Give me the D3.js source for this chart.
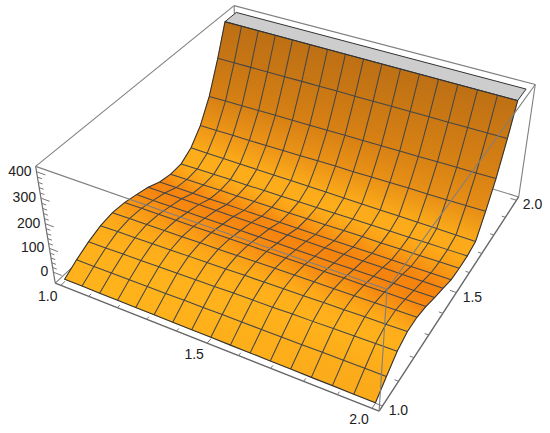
<!DOCTYPE html>
<html>
<head>
<meta charset="utf-8">
<style>
  body { margin: 0; background: #fff; }
  svg { display: block; }
  text { font-family: "Liberation Sans", Arial, sans-serif; font-size: 14px; fill: #222; }
</style>
</head>
<body>
<script src="https://d3js.org/d3.v7.min.js"></script>
<script>
const xMesh = d3.range(17).map(i => 1 + i / 16);
const yMesh = d3.range(17).map(i => 1 + i / 16);

// surface height per row of y, one value per mesh column of x
const zByRow = [
  [-38, -38, -39, -39, -40, -40, -41, -41, -41, -42, -42, -43, -43, -44, -44, -45, -45],
  [-7, -7, -6, -6, -5, -5, -4, -4, -3, -3, -3, -2, -2, -1, -1, 0, 0],
  [19, 20, 22, 23, 25, 26, 28, 29, 31, 32, 33, 35, 36, 38, 39, 41, 42],
  [38, 40, 41, 43, 44, 46, 47, 49, 51, 52, 54, 55, 57, 58, 60, 61, 63],
  [46, 47, 48, 49, 50, 51, 52, 53, 55, 56, 57, 58, 59, 60, 61, 62, 63],
  [42, 43, 43, 44, 44, 45, 45, 46, 47, 47, 48, 48, 49, 49, 50, 50, 51],
  [30, 30, 30, 30, 31, 31, 31, 31, 31, 31, 31, 31, 32, 32, 32, 32, 32],
  [16, 16, 16, 16, 16, 16, 16, 16, 16, 16, 16, 16, 16, 16, 16, 16, 16],
  [-6, -6, -6, -6, -5, -5, -5, -5, -4, -4, -4, -4, -3, -3, -3, -2, -2],
  [-16, -15, -15, -14, -14, -13, -13, -12, -11, -11, -10, -9, -9, -8, -8, -7, -6],
  [-14, -13, -13, -12, -12, -11, -11, -10, -10, -9, -8, -8, -7, -7, -6, -6, -5],
  [15, 14, 14, 13, 13, 12, 12, 12, 11, 10, 10, 9, 9, 8, 8, 7, 6],
  [72, 73, 74, 74, 75, 76, 77, 78, 79, 79, 80, 81, 82, 82, 83, 84, 85],
  [160, 161, 162, 163, 164, 165, 166, 167, 168, 168, 169, 170, 171, 172, 173, 174, 175],
  [286, 287, 287, 288, 288, 289, 289, 290, 290, 290, 291, 291, 292, 292, 293, 293, 294],
  [429, 429, 429, 429, 429, 429, 429, 429, 429, 429, 429, 429, 429, 429, 429, 429, 429],
  [607, 607, 607, 607, 607, 607, 607, 607, 607, 607, 607, 607, 607, 607, 607, 607, 607]
];
const zClip = 408;

const xTicks = d3.range(0, 11).map(i => 1 + i / 10);
const yTicks = d3.range(0, 11).map(i => 1 + i / 10);
const zTicks = d3.range(0, 21).map(i => i * 20);
const xyLabels = [1, 1.5, 2];
const zLabels = [0, 100, 200, 300, 400];

const slopeStops = [-0.6, -0.2, 0.3, 1.2, 2.2, 3.7, 5.5];
const shadeStops = ['#f5840f', '#f99a15', '#feac1a', '#ffb31b', '#f59c18', '#d98214', '#bb6e14'];

const width = 550, height = 433;
const xDomain = [0.98, 2.02], yDomain = [0.98, 2.02], zDomain = [-47, 420];

const xs = d3.scaleLinear().domain(xDomain).range([0, 1]);
const ys = d3.scaleLinear().domain(yDomain).range([0, 1]);
const zs = d3.scaleLinear().domain(zDomain).range([0, 1]);
const shade = d3.scaleLinear().domain(slopeStops).range(shadeStops).clamp(true);

// camera, unit box to screen
const camera = [
  279.4695, 232.9899, -22.3265, 55.2557,
  79.7552, -147.4064, -129.3863, 283.1715,
  -0.1171, 0.21165, -0.07564
];
function project([x, y, z]) {
  const u = xs(x), v = ys(y), t = zs(z);
  const w = camera[8] * u + camera[9] * v + camera[10] * t + 1;
  return [
    (camera[0] * u + camera[1] * v + camera[2] * t + camera[3]) / w,
    (camera[4] * u + camera[5] * v + camera[6] * t + camera[7]) / w
  ];
}

const svg = d3.select('body').append('svg')
  .attr('width', width)
  .attr('height', height);
const defs = svg.append('defs');
const line = d3.line();
const path3d = pts => line(pts.map(project));

const [x0, x1] = xDomain, [y0, y1] = yDomain, [z0, z1] = zDomain;

function edge(a, b, color = '#7f7f7f', w = 1.1) {
  svg.append('path')
    .attr('d', path3d([a, b]))
    .attr('fill', 'none')
    .attr('stroke', color)
    .attr('stroke-width', w);
}

// box edges behind the surface
edge([x0, y1, z0], [x1, y1, z0]);
edge([x0, y0, z0], [x0, y1, z0]);
edge([x0, y1, z0], [x0, y1, z1]);
edge([x0, y0, z1], [x0, y1, z1]);
edge([x0, y1, z1], [x1, y1, z1]);
edge([x1, y1, z0], [x1, y1, z1]);

// axes and ticks
edge([x0, y0, z1], [x0, y0, z0], '#6e6e6e', 1.2);
edge([x0, y0, z0], [x1, y0, z0], '#666', 1.4);
edge([x1, y0, z0], [x1, y1, z0], '#666', 1.4);
xTicks.forEach((v, i) => edge([v, y0, z0], [v, y0 + (i % 5 === 0 ? 0.02 : 0.012), z0], '#777', 1));
yTicks.forEach((v, i) => edge([x1, v, z0], [x1 - (i % 5 === 0 ? 0.02 : 0.012), v, z0], '#777', 1));
zTicks.forEach((v, i) => edge([x0, y0, v], [x0 + (i % 5 === 0 ? 0.03 : 0.015), y0, v], '#777', 1));

function vertexSlope(r, c) {
  const lo = Math.max(r - 1, 0), hi = Math.min(r + 1, 16);
  return (zs(zByRow[hi][c]) - zs(zByRow[lo][c])) / (ys(yMesh[hi]) - ys(yMesh[lo]));
}

// cut a cell where it rises through the top of the plot range
function clipCell(cell) {
  const out = [];
  cell.forEach((p, i) => {
    const q = cell[(i + 1) % cell.length];
    const pIn = p[2] <= zClip, qIn = q[2] <= zClip;
    if (pIn) out.push(p);
    if (pIn !== qIn) {
      const t = (zClip - p[2]) / (q[2] - p[2]);
      out.push([p[0] + t * (q[0] - p[0]), p[1] + t * (q[1] - p[1]), zClip]);
    }
  });
  return out;
}

const cells = svg.append('g');
d3.range(15, -1, -1).forEach(r => {
  d3.range(16).forEach(c => {
    const poly = clipCell([
      [xMesh[c], yMesh[r], zByRow[r][c]],
      [xMesh[c + 1], yMesh[r], zByRow[r][c + 1]],
      [xMesh[c + 1], yMesh[r + 1], zByRow[r + 1][c + 1]],
      [xMesh[c], yMesh[r + 1], zByRow[r + 1][c]]
    ]);
    if (poly.length < 3) return;
    const xMid = (xMesh[c] + xMesh[c + 1]) / 2;
    const a = project([xMid, yMesh[r], (zByRow[r][c] + zByRow[r][c + 1]) / 2]);
    const b = project([xMid, yMesh[r + 1], (zByRow[r + 1][c] + zByRow[r + 1][c + 1]) / 2]);
    const id = `cell-${r}-${c}`;
    const grad = defs.append('linearGradient')
      .attr('id', id)
      .attr('gradientUnits', 'userSpaceOnUse')
      .attr('x1', a[0]).attr('y1', a[1])
      .attr('x2', b[0]).attr('y2', b[1]);
    grad.append('stop').attr('offset', 0)
      .attr('stop-color', shade((vertexSlope(r, c) + vertexSlope(r, c + 1)) / 2));
    grad.append('stop').attr('offset', 1)
      .attr('stop-color', shade((vertexSlope(r + 1, c) + vertexSlope(r + 1, c + 1)) / 2));
    cells.append('path')
      .attr('d', path3d(poly) + 'Z')
      .attr('fill', `url(#${id})`)
      .attr('stroke', `url(#${id})`)
      .attr('stroke-width', 0.6);
  });
});

// flat grey cap where the surface is clipped
const clipLine = xMesh.map((x, c) => {
  const t = (zClip - zByRow[14][c]) / (zByRow[15][c] - zByRow[14][c]);
  return [x, yMesh[14] + t * (yMesh[15] - yMesh[14]), zClip];
});
svg.append('path')
  .attr('d', path3d([...clipLine, [2, 2, zClip], [1, 2, zClip]]) + 'Z')
  .attr('fill', '#cdcdcd')
  .attr('stroke', '#333')
  .attr('stroke-width', 1)
  .attr('stroke-linejoin', 'round');

// mesh
const meshColor = '#454545';
d3.range(1, 15).forEach(r => {
  svg.append('path')
    .attr('d', path3d(xMesh.map((x, c) => [x, yMesh[r], zByRow[r][c]])))
    .attr('fill', 'none')
    .attr('stroke', meshColor)
    .attr('stroke-width', 1.05);
});
d3.range(1, 16).forEach(c => {
  const pts = d3.range(15).map(r => [xMesh[c], yMesh[r], zByRow[r][c]]);
  pts.push(clipLine[c]);
  svg.append('path')
    .attr('d', path3d(pts))
    .attr('fill', 'none')
    .attr('stroke', meshColor)
    .attr('stroke-width', 1.05);
});

// surface boundary
const boundary = [
  ...xMesh.map((x, c) => [x, yMesh[0], zByRow[0][c]]),
  ...d3.range(1, 15).map(r => [xMesh[16], yMesh[r], zByRow[r][16]]),
  clipLine[16],
  clipLine[0],
  ...d3.range(14, 0, -1).map(r => [xMesh[0], yMesh[r], zByRow[r][0]])
];
svg.append('path')
  .attr('d', path3d(boundary) + 'Z')
  .attr('fill', 'none')
  .attr('stroke', '#333')
  .attr('stroke-width', 1.1);

// box edges in front of the surface
edge([x0, y0, z1], [x1, y0, z1]);
edge([x1, y0, z1], [x1, y0, z0]);
edge([x1, y0, z1], [x1, y1, z1]);

// tick labels
zLabels.forEach(v => {
  const p = project([x0, y0, v]);
  svg.append('text')
    .attr('x', p[0] - 5)
    .attr('y', p[1] + 4)
    .attr('text-anchor', 'end')
    .text(v);
});
xyLabels.forEach(v => {
  const p = project([v, y0, z0]);
  svg.append('text')
    .attr('x', p[0] - 13)
    .attr('y', p[1] + 16)
    .attr('text-anchor', 'middle')
    .text(v.toFixed(1));
  const q = project([x1, v, z0]);
  svg.append('text')
    .attr('x', q[0] + 16)
    .attr('y', q[1] + 9)
    .attr('text-anchor', 'middle')
    .text(v.toFixed(1));
});
</script>
</body>
</html>
